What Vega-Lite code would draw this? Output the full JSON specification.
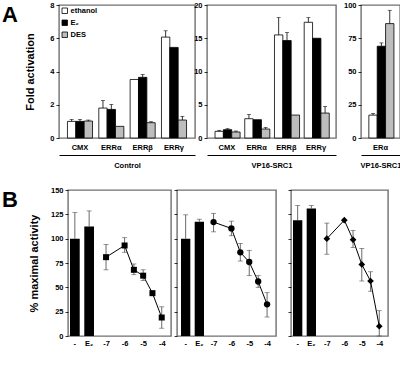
{
  "$schema": "https://vega.github.io/schema/vega-lite/v6.json",
  "padding": {"left": 2, "top": 0, "right": 0, "bottom": 0},
  "background": "white",
  "config": {
    "font": "Liberation Sans",
    "view": {"stroke": "#707070", "strokeWidth": 1.4},
    "axis": {"grid": false, "labelOverlap": false, "labelFont": "Liberation Sans", "labelFontSize": 7.5, "labelFontWeight": "bold", "labelColor": "black", "titleFont": "Liberation Sans", "titleFontWeight": "bold", "titleColor": "black", "tickColor": "black", "tickSize": 3, "tickWidth": 0.8, "domain": false, "labelPadding": 2},
    "axisY": {"titleFontSize": 11, "titlePadding": 11}
  },
  "datasets": {
    "a1": [
      {"receptor": "CMX", "treatment": "ethanol", "mean": 1.0, "upper": 1.12},
      {"receptor": "CMX", "treatment": "E₂", "mean": 1.0, "upper": 1.12},
      {"receptor": "CMX", "treatment": "DES", "mean": 1.02, "upper": 1.08},
      {"receptor": "ERRα", "treatment": "ethanol", "mean": 1.8, "upper": 2.25},
      {"receptor": "ERRα", "treatment": "E₂", "mean": 1.72, "upper": 2.02},
      {"receptor": "ERRα", "treatment": "DES", "mean": 0.7, "upper": 0.7},
      {"receptor": "ERRβ", "treatment": "ethanol", "mean": 3.52, "upper": 3.52},
      {"receptor": "ERRβ", "treatment": "E₂", "mean": 3.65, "upper": 3.82},
      {"receptor": "ERRβ", "treatment": "DES", "mean": 0.92, "upper": 0.98},
      {"receptor": "ERRγ", "treatment": "ethanol", "mean": 6.07, "upper": 6.45},
      {"receptor": "ERRγ", "treatment": "E₂", "mean": 5.45, "upper": 5.45},
      {"receptor": "ERRγ", "treatment": "DES", "mean": 1.08, "upper": 1.3}
    ],
    "a2": [
      {"receptor": "CMX", "treatment": "ethanol", "mean": 1.0, "upper": 1.15},
      {"receptor": "CMX", "treatment": "E₂", "mean": 1.25, "upper": 1.4},
      {"receptor": "CMX", "treatment": "DES", "mean": 0.9, "upper": 1.05},
      {"receptor": "ERRα", "treatment": "ethanol", "mean": 2.9, "upper": 3.55},
      {"receptor": "ERRα", "treatment": "E₂", "mean": 2.75, "upper": 2.75},
      {"receptor": "ERRα", "treatment": "DES", "mean": 1.35, "upper": 1.6},
      {"receptor": "ERRβ", "treatment": "ethanol", "mean": 15.5, "upper": 18.1},
      {"receptor": "ERRβ", "treatment": "E₂", "mean": 14.65, "upper": 15.85},
      {"receptor": "ERRβ", "treatment": "DES", "mean": 3.45, "upper": 3.45},
      {"receptor": "ERRγ", "treatment": "ethanol", "mean": 17.4, "upper": 18.1},
      {"receptor": "ERRγ", "treatment": "E₂", "mean": 15.0, "upper": 15.0},
      {"receptor": "ERRγ", "treatment": "DES", "mean": 3.75, "upper": 4.75}
    ],
    "a3": [
      {"receptor": "ERα", "treatment": "ethanol", "mean": 17.2, "upper": 18.5},
      {"receptor": "ERα", "treatment": "E₂", "mean": 69, "upper": 71.5},
      {"receptor": "ERα", "treatment": "DES", "mean": 86, "upper": 96}
    ],
    "b_bars": [
      {"receptor": "ERRα", "cond": "-", "mean": 100, "upper": 127},
      {"receptor": "ERRα", "cond": "E₂", "mean": 112.5, "upper": 128.5},
      {"receptor": "ERRβ", "cond": "-", "mean": 100, "upper": 124.5},
      {"receptor": "ERRβ", "cond": "E₂", "mean": 117.5, "upper": 120},
      {"receptor": "ERRγ", "cond": "-", "mean": 119, "upper": 134},
      {"receptor": "ERRγ", "cond": "E₂", "mean": 131, "upper": 134}
    ],
    "b_dose": [
      {"receptor": "ERRα", "dose": -7, "mean": 81, "lower": 68, "upper": 94},
      {"receptor": "ERRα", "dose": -6, "mean": 93, "lower": 86, "upper": 101},
      {"receptor": "ERRα", "dose": -5.5, "mean": 68, "lower": 63, "upper": 74},
      {"receptor": "ERRα", "dose": -5, "mean": 62, "lower": 57, "upper": 68},
      {"receptor": "ERRα", "dose": -4.5, "mean": 44, "lower": 42, "upper": 46},
      {"receptor": "ERRα", "dose": -4, "mean": 19, "lower": 8, "upper": 30},
      {"receptor": "ERRβ", "dose": -7, "mean": 117, "lower": 107, "upper": 126},
      {"receptor": "ERRβ", "dose": -6, "mean": 110.5, "lower": 103, "upper": 118},
      {"receptor": "ERRβ", "dose": -5.5, "mean": 86, "lower": 77, "upper": 95},
      {"receptor": "ERRβ", "dose": -5, "mean": 76, "lower": 62, "upper": 88},
      {"receptor": "ERRβ", "dose": -4.5, "mean": 56, "lower": 50, "upper": 62},
      {"receptor": "ERRβ", "dose": -4, "mean": 32.5, "lower": 19.5, "upper": 44.5},
      {"receptor": "ERRγ", "dose": -7, "mean": 100, "lower": 84, "upper": 116},
      {"receptor": "ERRγ", "dose": -6, "mean": 119, "lower": 119, "upper": 119},
      {"receptor": "ERRγ", "dose": -5.5, "mean": 99, "lower": 91, "upper": 108.5},
      {"receptor": "ERRγ", "dose": -5, "mean": 73.5, "lower": 56.5, "upper": 90},
      {"receptor": "ERRγ", "dose": -4.5, "mean": 56.5, "lower": 46, "upper": 66},
      {"receptor": "ERRγ", "dose": -4, "mean": 10, "lower": 0, "upper": 26}
    ]
  },
  "spacing": 15,
  "vconcat": [
    {
      "spacing": 6,
      "hconcat": [
        {
          "width": 16, "height": 133,
          "view": {"stroke": null},
          "data": {"values": [{"label": "A"}]},
          "mark": {"type": "text", "align": "left", "baseline": "top", "fontSize": 22, "fontWeight": "bold", "font": "Liberation Sans", "color": "black"},
          "encoding": {
            "text": {"field": "label"},
            "x": {"datum": 0, "type": "quantitative", "scale": {"domain": [0, 1]}, "axis": null},
            "y": {"datum": 1, "type": "quantitative", "scale": {"domain": [0, 1]}, "axis": null}
          }
        },
        {
          "spacing": -4,
          "resolve": {"scale": {"fill": "independent"}, "legend": {"fill": "independent"}},
          "hconcat": [
            {
              "width": 136, "height": 133,
              "data": {"name": "a1"},
              "encoding": {
                "x": {"field": "receptor", "type": "nominal", "sort": ["CMX", "ERRα", "ERRβ", "ERRγ"], "scale": {"paddingInner": 0.2, "paddingOuter": 0.27}, "axis": {"labelAngle": 0, "ticks": false, "tickSize": 0, "domain": true, "domainColor": "black", "domainWidth": 1, "offset": 17, "labelPadding": -12, "title": "Control", "titleFontSize": 7.5, "titlePadding": 6}},
                "xOffset": {"field": "treatment", "type": "nominal", "sort": ["ethanol", "E₂", "DES"]},
                "y": {"field": "mean", "type": "quantitative", "scale": {"domain": [0, 8]}, "axis": {"values": [0, 2, 4, 6, 8], "title": "Fold activation", "titlePadding": 14}}
              },
              "layer": [
                {"mark": {"type": "bar", "stroke": "black", "strokeWidth": 0.8},
                 "encoding": {
                   "fill": {"field": "treatment", "type": "nominal", "scale": {"domain": ["ethanol", "E₂", "DES"], "range": ["white", "black", "#bdbdbd"]},
                     "legend": {"orient": "top-left", "offset": 2, "title": null, "symbolType": "square", "symbolSize": 30, "symbolStrokeColor": "black", "symbolStrokeWidth": 0.8, "labelFontSize": 7.5, "labelFontWeight": "bold", "labelFont": "Liberation Sans", "labelColor": "black", "rowPadding": 2, "labelOffset": 2, "padding": 0}}
                 }},
                {"transform": [{"filter": "datum.upper > datum.mean"}], "mark": {"type": "rule", "color": "black", "strokeWidth": 0.8}, "encoding": {"y2": {"field": "upper"}}},
                {"transform": [{"filter": "datum.upper > datum.mean"}], "mark": {"type": "tick", "orient": "horizontal", "color": "black", "size": 4, "thickness": 0.8}, "encoding": {"y": {"field": "upper", "type": "quantitative", "axis": {"values": [0, 2, 4, 6, 8], "title": "Fold activation", "titlePadding": 14}}}}
              ]
            },
            {
              "spacing": 5,
              "hconcat": [
                {
                  "width": 129, "height": 133,
                  "data": {"name": "a2"},
                  "encoding": {
                    "x": {"field": "receptor", "type": "nominal", "sort": ["CMX", "ERRα", "ERRβ", "ERRγ"], "scale": {"paddingInner": 0.2, "paddingOuter": 0.27}, "axis": {"labelAngle": 0, "ticks": false, "tickSize": 0, "domain": true, "domainColor": "black", "domainWidth": 1, "offset": 17, "labelPadding": -12, "title": "VP16-SRC1", "titleFontSize": 7.5, "titlePadding": 6}},
                    "xOffset": {"field": "treatment", "type": "nominal", "sort": ["ethanol", "E₂", "DES"]},
                    "y": {"field": "mean", "type": "quantitative", "scale": {"domain": [0, 20]}, "axis": {"values": [0, 5, 10, 15, 20], "title": null}}
                  },
                  "layer": [
                    {"mark": {"type": "bar", "stroke": "black", "strokeWidth": 0.8},
                     "encoding": {
                       "fill": {"field": "treatment", "type": "nominal", "scale": {"domain": ["ethanol", "E₂", "DES"], "range": ["white", "black", "#bdbdbd"]}, "legend": null}
                     }},
                    {"transform": [{"filter": "datum.upper > datum.mean"}], "mark": {"type": "rule", "color": "black", "strokeWidth": 0.8}, "encoding": {"y2": {"field": "upper"}}},
                    {"transform": [{"filter": "datum.upper > datum.mean"}], "mark": {"type": "tick", "orient": "horizontal", "color": "black", "size": 4, "thickness": 0.8}, "encoding": {"y": {"field": "upper", "type": "quantitative", "axis": {"values": [0, 5, 10, 15, 20], "title": null}}}}
                  ]
                },
                {
                  "width": 39, "height": 133,
                  "data": {"name": "a3"},
                  "encoding": {
                    "x": {"field": "receptor", "type": "nominal", "scale": {"paddingInner": 0.2, "paddingOuter": 0.27}, "axis": {"labelAngle": 0, "ticks": false, "tickSize": 0, "domain": true, "domainColor": "black", "domainWidth": 1, "offset": 17, "labelPadding": -12, "title": "VP16-SRC1", "titleFontSize": 7.5, "titlePadding": 6}},
                    "xOffset": {"field": "treatment", "type": "nominal", "sort": ["ethanol", "E₂", "DES"]},
                    "y": {"field": "mean", "type": "quantitative", "scale": {"domain": [0, 100]}, "axis": {"values": [0, 25, 50, 75, 100], "title": null}}
                  },
                  "layer": [
                    {"mark": {"type": "bar", "stroke": "black", "strokeWidth": 0.8},
                     "encoding": {
                       "fill": {"field": "treatment", "type": "nominal", "scale": {"domain": ["ethanol", "E₂", "DES"], "range": ["white", "black", "#bdbdbd"]}, "legend": null}
                     }},
                    {"transform": [{"filter": "datum.upper > datum.mean"}], "mark": {"type": "rule", "color": "black", "strokeWidth": 0.8}, "encoding": {"y2": {"field": "upper"}}},
                    {"transform": [{"filter": "datum.upper > datum.mean"}], "mark": {"type": "tick", "orient": "horizontal", "color": "black", "size": 4, "thickness": 0.8}, "encoding": {"y": {"field": "upper", "type": "quantitative", "axis": {"values": [0, 25, 50, 75, 100], "title": null}}}}
                  ]
                }
              ]
            }
          ]
        }
      ]
    },
    {
      "spacing": 9,
      "hconcat": [
        {
          "width": 16, "height": 146,
          "view": {"stroke": null},
          "data": {"values": [{"label": "B"}]},
          "mark": {"type": "text", "align": "left", "baseline": "top", "fontSize": 22, "fontWeight": "bold", "font": "Liberation Sans", "color": "black"},
          "encoding": {
            "text": {"field": "label"},
            "x": {"datum": 0, "type": "quantitative", "scale": {"domain": [0, 1]}, "axis": null},
            "y": {"datum": 1, "type": "quantitative", "scale": {"domain": [0, 1]}, "axis": null}
          }
        },
        {
          "spacing": 0,
          "hconcat": [
            {
              "width": 103, "height": 146,
              "encoding": {
                "y": {"field": "mean", "type": "quantitative", "scale": {"domain": [0, 150]}, "axis": {"values": [0, 25, 50, 75, 100, 125, 150], "title": "% maximal activity"}}
              },
              "layer": [
                {
                  "data": {"name": "b_bars"},
                  "transform": [{"filter": "datum.receptor === 'ERRα'"}],
                  "encoding": {
                    "x": {"field": "cond", "type": "nominal", "scale": {"domain": ["-", "E₂"], "range": [2, 26], "paddingInner": 0.32, "paddingOuter": 0}, "axis": {"orient": "bottom", "labelAngle": 0, "ticks": false, "tickSize": 0, "title": null, "labelPadding": 3}}
                  },
                  "layer": [
                    {"mark": {"type": "bar", "color": "black"}},
                    {"transform": [{"filter": "datum.upper > datum.mean"}], "mark": {"type": "rule", "color": "#444", "strokeWidth": 0.8}, "encoding": {"y2": {"field": "upper"}}},
                    {"transform": [{"filter": "datum.upper > datum.mean"}], "mark": {"type": "tick", "orient": "horizontal", "color": "#444", "size": 5, "thickness": 0.8}, "encoding": {"y": {"field": "upper", "type": "quantitative", "axis": {"values": [0, 25, 50, 75, 100, 125, 150], "title": "% maximal activity"}}}}
                  ]
                },
                {
                  "data": {"name": "b_dose"},
                  "transform": [{"filter": "datum.receptor === 'ERRα'"}],
                  "encoding": {
                    "x": {"field": "dose", "type": "quantitative", "scale": {"domain": [-9.05, -3.5], "nice": false, "zero": false}, "axis": {"orient": "bottom", "values": [-7, -6, -5, -4], "labelExpr": "'-' + (-datum.value)", "labelFlush": false, "ticks": false, "tickSize": 0, "title": null, "labelPadding": 3}}
                  },
                  "layer": [
                    {"transform": [{"filter": "datum.upper > datum.lower"}], "mark": {"type": "rule", "color": "#444", "strokeWidth": 0.8}, "encoding": {"y": {"field": "lower", "type": "quantitative", "axis": {"values": [0, 25, 50, 75, 100, 125, 150], "title": "% maximal activity"}}, "y2": {"field": "upper"}}},
                    {"transform": [{"filter": "datum.upper > datum.lower"}], "mark": {"type": "tick", "orient": "horizontal", "color": "#444", "size": 5, "thickness": 0.8}, "encoding": {"y": {"field": "lower", "type": "quantitative", "axis": {"values": [0, 25, 50, 75, 100, 125, 150], "title": "% maximal activity"}}}},
                    {"transform": [{"filter": "datum.upper > datum.lower"}], "mark": {"type": "tick", "orient": "horizontal", "color": "#444", "size": 5, "thickness": 0.8}, "encoding": {"y": {"field": "upper", "type": "quantitative", "axis": {"values": [0, 25, 50, 75, 100, 125, 150], "title": "% maximal activity"}}}},
                    {"mark": {"type": "line", "color": "black", "strokeWidth": 1}},
                    {"mark": {"type": "point", "shape": "square", "filled": true, "color": "black", "size": 36, "opacity": 1}},
                    {"data": {"values": [{"label": "ERRα"}]}, "mark": {"type": "text", "align": "right", "baseline": "middle", "fontSize": 10, "fontWeight": "bold"}, "encoding": {"x": {"datum": -3.62}, "y": {"datum": 140}, "text": {"field": "label"}}},
                    {"data": {"values": [{}]}, "mark": {"type": "rule", "color": "black", "strokeWidth": 1}, "encoding": {"x": {"datum": -7}, "x2": {"datum": -4}, "y": {"datum": -19}}},
                    {"data": {"values": [{}]}, "mark": {"type": "rule", "color": "black", "strokeWidth": 1}, "encoding": {"x": {"datum": -7}, "y": {"datum": -19}, "y2": {"datum": -14}}},
                    {"data": {"values": [{}]}, "mark": {"type": "rule", "color": "black", "strokeWidth": 1}, "encoding": {"x": {"datum": -4}, "y": {"datum": -19}, "y2": {"datum": -14}}},
                    {"data": {"values": [{"label": "DES (logM)"}]}, "mark": {"type": "text", "baseline": "middle", "fontSize": 7.5, "fontWeight": "bold"}, "encoding": {"x": {"datum": -5.5}, "y": {"datum": -28}, "text": {"field": "label"}}}
                  ]
                }
              ],
              "resolve": {"scale": {"x": "independent"}, "axis": {"x": "independent"}}
            },
            {
              "spacing": 9,
              "hconcat": [
                {
                  "width": 99, "height": 146,
                  "encoding": {
                    "y": {"field": "mean", "type": "quantitative", "scale": {"domain": [0, 150]}, "axis": {"values": [0, 25, 50, 75, 100, 125, 150], "labels": false, "title": null}}
                  },
                  "layer": [
                    {
                      "data": {"name": "b_bars"},
                      "transform": [{"filter": "datum.receptor === 'ERRβ'"}],
                      "encoding": {
                        "x": {"field": "cond", "type": "nominal", "scale": {"domain": ["-", "E₂"], "range": [4, 27], "paddingInner": 0.32, "paddingOuter": 0}, "axis": {"orient": "bottom", "labelAngle": 0, "ticks": false, "tickSize": 0, "title": null, "labelPadding": 3}}
                      },
                      "layer": [
                        {"mark": {"type": "bar", "color": "black"}},
                        {"transform": [{"filter": "datum.upper > datum.mean"}], "mark": {"type": "rule", "color": "#444", "strokeWidth": 0.8}, "encoding": {"y2": {"field": "upper"}}},
                        {"transform": [{"filter": "datum.upper > datum.mean"}], "mark": {"type": "tick", "orient": "horizontal", "color": "#444", "size": 5, "thickness": 0.8}, "encoding": {"y": {"field": "upper", "type": "quantitative", "axis": {"values": [0, 25, 50, 75, 100, 125, 150], "labels": false, "title": null}}}}
                      ]
                    },
                    {
                      "data": {"name": "b_dose"},
                      "transform": [{"filter": "datum.receptor === 'ERRβ'"}],
                      "encoding": {
                        "x": {"field": "dose", "type": "quantitative", "scale": {"domain": [-9.05, -3.5], "nice": false, "zero": false}, "axis": {"orient": "bottom", "values": [-7, -6, -5, -4], "labelExpr": "'-' + (-datum.value)", "labelFlush": false, "ticks": false, "tickSize": 0, "title": null, "labelPadding": 3}}
                      },
                      "layer": [
                        {"transform": [{"filter": "datum.upper > datum.lower"}], "mark": {"type": "rule", "color": "#444", "strokeWidth": 0.8}, "encoding": {"y": {"field": "lower", "type": "quantitative", "axis": {"values": [0, 25, 50, 75, 100, 125, 150], "labels": false, "title": null}}, "y2": {"field": "upper"}}},
                        {"transform": [{"filter": "datum.upper > datum.lower"}], "mark": {"type": "tick", "orient": "horizontal", "color": "#444", "size": 5, "thickness": 0.8}, "encoding": {"y": {"field": "lower", "type": "quantitative", "axis": {"values": [0, 25, 50, 75, 100, 125, 150], "labels": false, "title": null}}}},
                        {"transform": [{"filter": "datum.upper > datum.lower"}], "mark": {"type": "tick", "orient": "horizontal", "color": "#444", "size": 5, "thickness": 0.8}, "encoding": {"y": {"field": "upper", "type": "quantitative", "axis": {"values": [0, 25, 50, 75, 100, 125, 150], "labels": false, "title": null}}}},
                        {"mark": {"type": "line", "color": "black", "strokeWidth": 1}},
                        {"mark": {"type": "point", "shape": "circle", "filled": true, "color": "black", "size": 40, "opacity": 1}},
                        {"data": {"values": [{"label": "ERRβ"}]}, "mark": {"type": "text", "align": "right", "baseline": "middle", "fontSize": 10, "fontWeight": "bold"}, "encoding": {"x": {"datum": -3.62}, "y": {"datum": 140}, "text": {"field": "label"}}},
                        {"data": {"values": [{}]}, "mark": {"type": "rule", "color": "black", "strokeWidth": 1}, "encoding": {"x": {"datum": -7}, "x2": {"datum": -4}, "y": {"datum": -19}}},
                        {"data": {"values": [{}]}, "mark": {"type": "rule", "color": "black", "strokeWidth": 1}, "encoding": {"x": {"datum": -7}, "y": {"datum": -19}, "y2": {"datum": -14}}},
                        {"data": {"values": [{}]}, "mark": {"type": "rule", "color": "black", "strokeWidth": 1}, "encoding": {"x": {"datum": -4}, "y": {"datum": -19}, "y2": {"datum": -14}}},
                        {"data": {"values": [{"label": "DES (logM)"}]}, "mark": {"type": "text", "baseline": "middle", "fontSize": 7.5, "fontWeight": "bold"}, "encoding": {"x": {"datum": -5.5}, "y": {"datum": -28}, "text": {"field": "label"}}}
                      ]
                    }
                  ],
                  "resolve": {"scale": {"x": "independent"}, "axis": {"x": "independent"}}
                },
                {
                  "width": 97, "height": 146,
                  "encoding": {
                    "y": {"field": "mean", "type": "quantitative", "scale": {"domain": [0, 150]}, "axis": {"values": [0, 25, 50, 75, 100, 125, 150], "labels": false, "title": null}}
                  },
                  "layer": [
                    {
                      "data": {"name": "b_bars"},
                      "transform": [{"filter": "datum.receptor === 'ERRγ'"}],
                      "encoding": {
                        "x": {"field": "cond", "type": "nominal", "scale": {"domain": ["-", "E₂"], "range": [2, 25], "paddingInner": 0.32, "paddingOuter": 0}, "axis": {"orient": "bottom", "labelAngle": 0, "ticks": false, "tickSize": 0, "title": null, "labelPadding": 3}}
                      },
                      "layer": [
                        {"mark": {"type": "bar", "color": "black"}},
                        {"transform": [{"filter": "datum.upper > datum.mean"}], "mark": {"type": "rule", "color": "#444", "strokeWidth": 0.8}, "encoding": {"y2": {"field": "upper"}}},
                        {"transform": [{"filter": "datum.upper > datum.mean"}], "mark": {"type": "tick", "orient": "horizontal", "color": "#444", "size": 5, "thickness": 0.8}, "encoding": {"y": {"field": "upper", "type": "quantitative", "axis": {"values": [0, 25, 50, 75, 100, 125, 150], "labels": false, "title": null}}}}
                      ]
                    },
                    {
                      "data": {"name": "b_dose"},
                      "transform": [{"filter": "datum.receptor === 'ERRγ'"}],
                      "encoding": {
                        "x": {"field": "dose", "type": "quantitative", "scale": {"domain": [-9.05, -3.5], "nice": false, "zero": false}, "axis": {"orient": "bottom", "values": [-7, -6, -5, -4], "labelExpr": "'-' + (-datum.value)", "labelFlush": false, "ticks": false, "tickSize": 0, "title": null, "labelPadding": 3}}
                      },
                      "layer": [
                        {"transform": [{"filter": "datum.upper > datum.lower"}], "mark": {"type": "rule", "color": "#444", "strokeWidth": 0.8}, "encoding": {"y": {"field": "lower", "type": "quantitative", "axis": {"values": [0, 25, 50, 75, 100, 125, 150], "labels": false, "title": null}}, "y2": {"field": "upper"}}},
                        {"transform": [{"filter": "datum.upper > datum.lower"}], "mark": {"type": "tick", "orient": "horizontal", "color": "#444", "size": 5, "thickness": 0.8}, "encoding": {"y": {"field": "lower", "type": "quantitative", "axis": {"values": [0, 25, 50, 75, 100, 125, 150], "labels": false, "title": null}}}},
                        {"transform": [{"filter": "datum.upper > datum.lower"}], "mark": {"type": "tick", "orient": "horizontal", "color": "#444", "size": 5, "thickness": 0.8}, "encoding": {"y": {"field": "upper", "type": "quantitative", "axis": {"values": [0, 25, 50, 75, 100, 125, 150], "labels": false, "title": null}}}},
                        {"mark": {"type": "line", "color": "black", "strokeWidth": 1}},
                        {"mark": {"type": "point", "shape": "diamond", "filled": true, "color": "black", "size": 45, "opacity": 1}},
                        {"data": {"values": [{"label": "ERRγ"}]}, "mark": {"type": "text", "align": "right", "baseline": "middle", "fontSize": 10, "fontWeight": "bold"}, "encoding": {"x": {"datum": -3.62}, "y": {"datum": 140}, "text": {"field": "label"}}},
                        {"data": {"values": [{}]}, "mark": {"type": "rule", "color": "black", "strokeWidth": 1}, "encoding": {"x": {"datum": -7}, "x2": {"datum": -4}, "y": {"datum": -19}}},
                        {"data": {"values": [{}]}, "mark": {"type": "rule", "color": "black", "strokeWidth": 1}, "encoding": {"x": {"datum": -7}, "y": {"datum": -19}, "y2": {"datum": -14}}},
                        {"data": {"values": [{}]}, "mark": {"type": "rule", "color": "black", "strokeWidth": 1}, "encoding": {"x": {"datum": -4}, "y": {"datum": -19}, "y2": {"datum": -14}}},
                        {"data": {"values": [{"label": "DES (logM)"}]}, "mark": {"type": "text", "baseline": "middle", "fontSize": 7.5, "fontWeight": "bold"}, "encoding": {"x": {"datum": -5.5}, "y": {"datum": -28}, "text": {"field": "label"}}}
                      ]
                    }
                  ],
                  "resolve": {"scale": {"x": "independent"}, "axis": {"x": "independent"}}
                }
              ]
            }
          ]
        }
      ]
    }
  ]
}
